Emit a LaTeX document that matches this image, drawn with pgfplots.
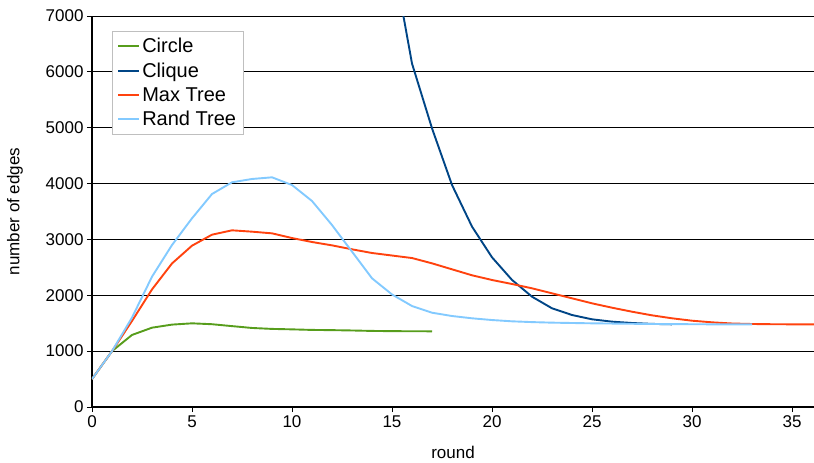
\documentclass[border=0pt]{standalone}
\usepackage{fontspec}
\setmainfont{Liberation Sans}
\usepackage{pgfplots}
\pgfplotsset{compat=1.18}
\definecolor{cCircle}{HTML}{579D1C}
\definecolor{cClique}{HTML}{004586}
\definecolor{cMax}{HTML}{FF420E}
\definecolor{cRand}{HTML}{83CAFF}
\begin{document}
\begin{tikzpicture}
\useasboundingbox (-92bp,-56bp) rectangle (722bp,407bp);
\begin{axis}[
  at={(0,0)}, anchor=south west,
  scale only axis, width=722bp, height=391bp,
  xmin=0, xmax=36.1, ymin=0, ymax=7000,
  axis x line*=bottom, axis y line*=left,
  axis line style={line width=1.2bp, black, -},
  xtick={0,5,...,35}, ytick={0,1000,...,7000},
  ymajorgrids, grid style={black, line width=0.8bp},
  tick align=outside, major tick length=5bp,
  tick style={black, line width=0.9bp},
  /pgf/number format/1000 sep={},
  /pgf/number format/assume math mode=true,
  ticklabel style={font=\fontsize{17bp}{19bp}\selectfont},
  label style={font=\fontsize{17bp}{19bp}\selectfont},
  xlabel={round}, ylabel={number of edges},
  xlabel style={yshift=-12bp},
  ylabel style={yshift=16bp},
  clip=true,
  every axis plot/.append style={line width=1.9bp, line join=round},
  legend style={at={(0.0277,0.9616)}, anchor=north west,
    draw=black!25, line width=0.8bp, fill=white,
    font=\fontsize{20bp}{22bp}\selectfont,
    inner xsep=5bp, inner ysep=5bp, row sep=4.5bp},
  legend cell align=left,
  legend image code/.code={\draw[#1] (0bp,0bp) -- (21bp,0bp);},
]
\addplot[cCircle] coordinates {
(0,500)(1,1000)(2,1290)(3,1420)(4,1475)(5,1498)(6,1482)(7,1448)(8,1415)(9,1398)
(10,1390)(11,1380)(12,1376)(13,1370)(14,1362)(15,1358)(16,1356)(17,1355)};
\addlegendentry{Circle}
\addplot[cClique] coordinates {
(15,8130)(16,6150)(17,4990)(18,3975)(19,3230)(20,2680)(21,2275)(22,1975)(23,1767)
(24,1647)(25,1570)(26,1528)(27,1504)(28,1488)(29,1480)};
\addlegendentry{Clique}
\addplot[cMax] coordinates {
(0,500)(1,1000)(2,1540)(3,2105)(4,2570)(5,2888)(6,3085)(7,3163)(8,3139)(9,3109)
(10,3025)(11,2954)(12,2894)(13,2823)(14,2757)(15,2712)(16,2667)(17,2572)(18,2465)
(19,2358)(20,2274)(21,2202)(22,2125)(23,2035)(24,1946)(25,1856)(26,1778)(27,1706)
(28,1641)(29,1588)(30,1545)(31,1516)(32,1495)(33,1486)(34,1482)(35,1480)(36,1480)(37,1480)};
\addlegendentry{Max Tree}
\addplot[cRand] coordinates {
(0,500)(1,1000)(2,1600)(3,2333)(4,2900)(5,3378)(6,3813)(7,4023)(8,4082)(9,4112)
(10,3974)(11,3688)(12,3258)(13,2781)(14,2304)(15,2015)(16,1808)(17,1688)(18,1629)
(19,1588)(20,1557)(21,1534)(22,1520)(23,1510)(24,1504)(25,1498)(26,1494)(27,1490)
(28,1486)(29,1484)(30,1482)(31,1480)(32,1480)(33,1480)};
\addlegendentry{Rand Tree}
\end{axis}
\end{tikzpicture}
\end{document}
